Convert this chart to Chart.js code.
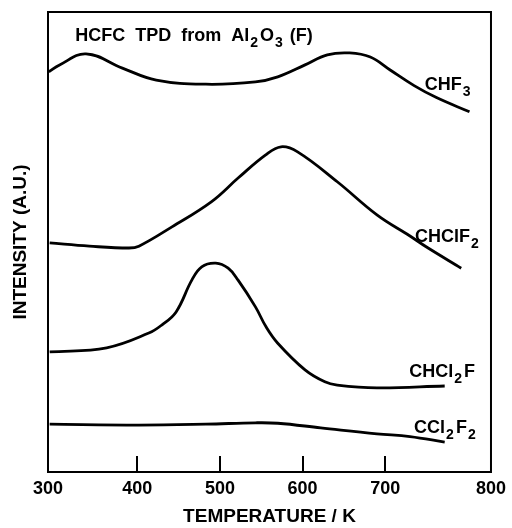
<!DOCTYPE html>
<html>
<head>
<meta charset="utf-8">
<script src="https://cdn.jsdelivr.net/npm/chart.js@4.4.0/dist/chart.umd.min.js"></script>
<style>
  html, body { margin: 0; padding: 0; background: #fff; }
  canvas { display: block; }
</style>
</head>
<body>
<canvas id="tpd" width="512" height="528"></canvas>
<script>
// points (temperature in K, intensity in a.u. 0-100)
const chf3T = [293, 306, 338, 382, 423, 483, 543, 570, 603, 630, 657, 682, 706, 735, 762, 802];
const chf3I = [87.0, 88.5, 90.9, 87.8, 85.2, 84.3, 84.8, 85.9, 88.5, 90.7, 91.1, 90.2, 87.4, 84.0, 81.4, 78.3];

const chclf2T = [294, 342, 390, 402, 442, 490, 522, 555, 574, 594, 642, 690, 730, 750, 792];
const chclf2I = [49.8, 49.1, 48.7, 49.1, 53.3, 58.8, 63.9, 68.9, 70.7, 69.6, 63.1, 55.9, 51.3, 48.9, 44.3];

const chcl2fT = [294, 363, 414, 430, 447, 466, 478, 495, 510, 522, 543, 556, 570, 603, 627, 642, 690, 772];
const chcl2fI = [26.1, 27.0, 30.2, 32.0, 34.8, 41.7, 44.6, 45.4, 44.3, 41.7, 35.9, 31.5, 28.0, 22.2, 19.6, 18.9, 18.3, 18.7];

const ccl2f2T = [294, 402, 483, 543, 570, 622, 690, 730, 772];
const ccl2f2I = [10.4, 10.2, 10.4, 10.7, 10.6, 9.6, 8.3, 7.7, 6.5];

const seriesNames = ['CHF_3', 'CHClF_2', 'CHCl_2F', 'CCl_2F_2'];

// the printed axis is not uniform: the end labels sit on the frame
const xTickValues = [292, 400, 500, 600, 700, 828];
const xTickLabels = ['300', '400', '500', '600', '700', '800'];

const FONT = '"Liberation Sans", Arial, Helvetica, sans-serif';

function pts(t, v) {
  return t.map((x, i) => ({x: x, y: v[i]}));
}

// '_' puts the following character in subscript
function drawChem(ctx, text, x, y, size) {
  let cx = x;
  for (let i = 0; i < text.length; i++) {
    let ch = text[i];
    let sub = false;
    if (ch === '_') {
      ch = text[++i];
      sub = true;
    }
    const s = sub ? Math.round(size * 0.78) : size;
    ctx.font = 'bold ' + s + 'px ' + FONT;
    if (sub) cx += 1;
    ctx.fillText(ch, cx, y + (sub ? size * 0.32 : 0));
    cx += ctx.measureText(ch).width + (sub ? 2 : 0);
  }
}

// label anchors in data units (K, a.u.)
const labelSpots = [
  {x: 748, y: 83.0},
  {x: 736, y: 50.0},
  {x: 729, y: 20.7},
  {x: 735, y: 8.5}
];

const framePlugin = {
  id: 'frame',
  afterDraw(chart) {
    const ctx = chart.ctx;
    const a = chart.chartArea;
    const xs = chart.scales.x;
    const ys = chart.scales.y;
    ctx.save();
    ctx.strokeStyle = '#000';
    ctx.lineWidth = 2;
    ctx.strokeRect(a.left, a.top, a.right - a.left, a.bottom - a.top);

    // inward tick marks, only the inner ones
    ctx.beginPath();
    for (let i = 1; i < xTickValues.length - 1; i++) {
      const px = Math.round(xs.getPixelForValue(xTickValues[i]));
      ctx.moveTo(px, a.bottom);
      ctx.lineTo(px, a.bottom - 16);
    }
    ctx.stroke();

    ctx.fillStyle = '#000';
    ctx.textBaseline = 'alphabetic';
    ctx.textAlign = 'left';
    seriesNames.forEach((n, i) => {
      drawChem(ctx, n, xs.getPixelForValue(labelSpots[i].x), ys.getPixelForValue(labelSpots[i].y), 18);
    });

    drawChem(ctx, 'HCFC  TPD  from  Al_2O_3 (F)', xs.getPixelForValue(325), ys.getPixelForValue(93.6), 18);
    ctx.restore();
  }
};

const lineStyle = {
  borderColor: '#000',
  borderWidth: 2.8,
  pointRadius: 0,
  fill: false,
  tension: 0.4
};

new Chart(document.getElementById('tpd'), {
  type: 'line',
  data: {
    datasets: [
      Object.assign({label: seriesNames[0], data: pts(chf3T, chf3I)}, lineStyle),
      Object.assign({label: seriesNames[1], data: pts(chclf2T, chclf2I)}, lineStyle),
      Object.assign({label: seriesNames[2], data: pts(chcl2fT, chcl2fI)}, lineStyle),
      Object.assign({label: seriesNames[3], data: pts(ccl2f2T, ccl2f2I)}, lineStyle)
    ]
  },
  options: {
    responsive: false,
    animation: false,
    layout: {
      padding: {top: 12, right: 17, left: 0, bottom: 0}
    },
    plugins: {
      legend: {display: false},
      tooltip: {enabled: false}
    },
    scales: {
      x: {
        type: 'linear',
        min: 292,
        max: 828,
        afterBuildTicks(scale) {
          scale.ticks = xTickValues.map(v => ({value: v}));
        },
        afterFit(scale) {
          scale.height = 56;
        },
        grid: {display: false, drawTicks: false},
        border: {display: false},
        ticks: {
          padding: 6,
          color: '#000',
          maxRotation: 0,
          font: {family: FONT, size: 18, weight: 'bold'},
          callback: (v, i) => xTickLabels[i]
        },
        title: {
          display: true,
          text: 'TEMPERATURE / K',
          color: '#000',
          padding: {top: 5, bottom: 0},
          font: {family: FONT, size: 19, weight: 'bold'}
        }
      },
      y: {
        min: 0,
        max: 100,
        afterFit(scale) {
          scale.width = 48;
        },
        grid: {display: false, drawTicks: false},
        border: {display: false},
        ticks: {display: false},
        title: {
          display: true,
          text: 'INTENSITY (A.U.)',
          color: '#000',
          padding: {top: 9, bottom: 0},
          font: {family: FONT, size: 19, weight: 'bold'}
        }
      }
    }
  },
  plugins: [framePlugin]
});
</script>
</body>
</html>
